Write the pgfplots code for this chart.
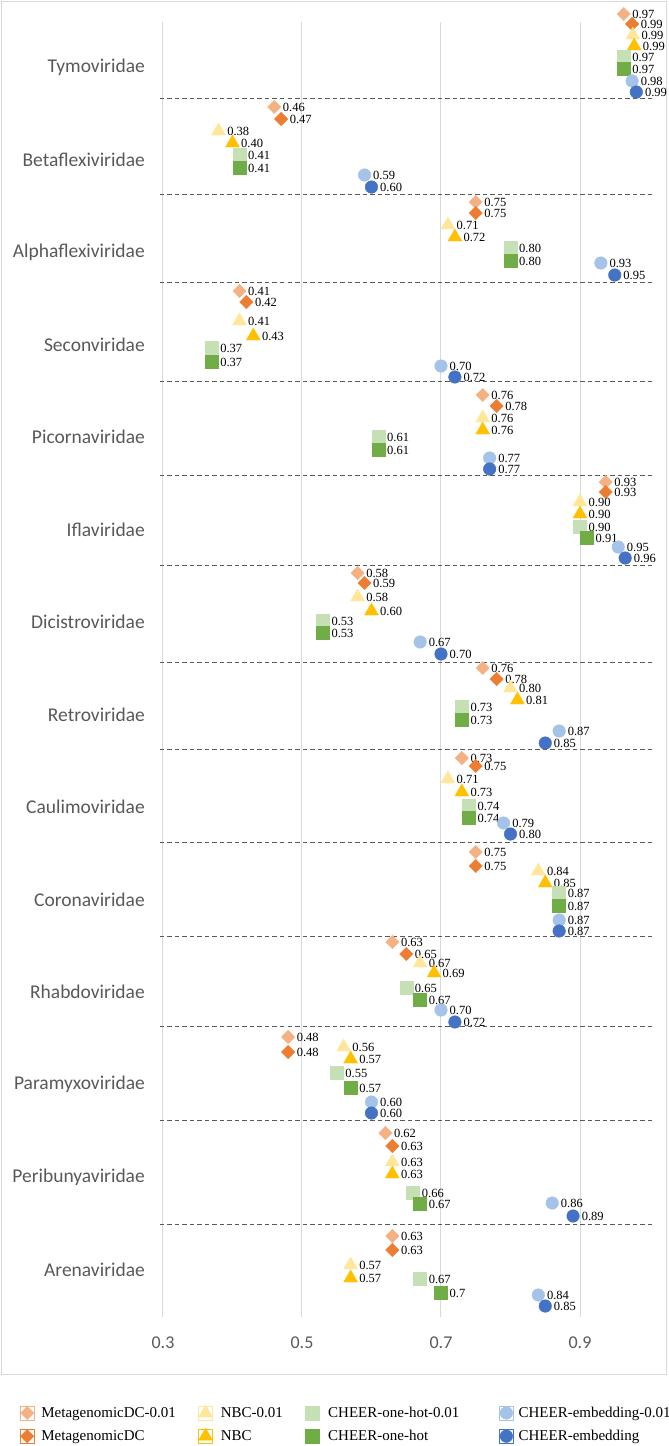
\documentclass[border=0pt]{standalone}
\usepackage{fontspec}
\setmainfont{Liberation Serif}
\newfontfamily\carlito{Carlito}
\usepackage{pgfplots}
\usepackage{pgfplotstable}
\pgfplotsset{compat=1.18}

\definecolor{cMDCl}{HTML}{F4B183}
\definecolor{cMDC}{HTML}{ED7D31}
\definecolor{cNBCl}{HTML}{FFE699}
\definecolor{cNBC}{HTML}{FFC000}
\definecolor{cOHl}{HTML}{C5E0B4}
\definecolor{cOH}{HTML}{70AD47}
\definecolor{cEMBl}{HTML}{A5C3E8}
\definecolor{cEMB}{HTML}{4472C4}
\definecolor{tickgray}{HTML}{595959}
\definecolor{gridgray}{HTML}{D9D9D9}
\definecolor{framegray}{HTML}{D9D9D9}
\definecolor{sepgray}{HTML}{595959}

\newcommand\catfont{\carlito\fontsize{19.5}{23}\selectfont}
\newcommand\ticfont{\carlito\fontsize{18}{21}\selectfont}
\newcommand\labfont{\fontsize{12.5}{14}\selectfont}
\newcommand\legfont{\fontsize{15}{18}\selectfont}

% x = value, y = vertical position (pixel row), l = data label
\pgfplotstableread{
x y l
0.963 14 0.97
0.46 107 0.46
0.75 202 0.75
0.41 291 0.41
0.76 395 0.76
0.937 482 0.93
0.58 573 0.58
0.76 668 0.76
0.73 758 0.73
0.75 852 0.75
0.63 942 0.63
0.48 1037 0.48
0.62 1133 0.62
0.63 1236 0.63
}\tMDCl
\pgfplotstableread{
x y l
0.975 24 0.99
0.47 119 0.47
0.75 213 0.75
0.42 302 0.42
0.78 406 0.78
0.937 492 0.93
0.59 583 0.59
0.78 679 0.78
0.75 766 0.75
0.75 866 0.75
0.65 954 0.65
0.48 1052 0.48
0.63 1146 0.63
0.63 1250 0.63
}\tMDC
\pgfplotstableread{
x y l
0.976 35 0.99
0.38 131 0.38
0.71 225 0.71
0.41 321 0.41
0.76 418 0.76
0.90 502 0.90
0.58 597 0.58
0.80 688 0.80
0.71 779 0.71
0.84 871 0.84
0.67 963 0.67
0.56 1047 0.56
0.63 1162 0.63
0.57 1265 0.57
}\tNBCl
\pgfplotstableread{
x y l
0.978 46 0.99
0.40 143 0.40
0.72 237 0.72
0.43 336 0.43
0.76 430 0.76
0.90 514 0.90
0.60 611 0.60
0.81 700 0.81
0.73 792 0.73
0.85 883 0.85
0.69 973 0.69
0.57 1059 0.57
0.63 1174 0.63
0.57 1278 0.57
}\tNBC
\pgfplotstableread{
x y l
0.963 57 0.97
0.41 155 0.41
0.80 248 0.80
0.37 348 0.37
0.61 437 0.61
0.90 527 0.90
0.53 621 0.53
0.73 707 0.73
0.74 806 0.74
0.87 893 0.87
0.65 988 0.65
0.55 1073 0.55
0.66 1193 0.66
0.67 1279 0.67
}\tOHl
\pgfplotstableread{
x y l
0.963 69 0.97
0.41 168 0.41
0.80 261 0.80
0.37 362 0.37
0.61 450 0.61
0.91 538 0.91
0.53 633 0.53
0.73 720 0.73
0.74 818 0.74
0.87 906 0.87
0.67 1000 0.67
0.57 1088 0.57
0.67 1204 0.67
0.70 1293 0.7
}\tOH
\pgfplotstableread{
x y l
0.975 81 0.98
0.59 175 0.59
0.93 263 0.93
0.70 366 0.70
0.77 458 0.77
0.955 547 0.95
0.67 642 0.67
0.87 731 0.87
0.79 823 0.79
0.87 920 0.87
0.70 1010 0.70
0.60 1102 0.60
0.86 1203 0.86
0.84 1295 0.84
}\tEMBl
\pgfplotstableread{
x y l
0.981 92 0.99
0.60 187 0.60
0.95 275 0.95
0.72 377 0.72
0.77 469 0.77
0.965 558 0.96
0.70 654 0.70
0.85 743 0.85
0.80 834 0.80
0.87 931 0.87
0.72 1022 0.72
0.60 1113 0.60
0.89 1216 0.89
0.85 1306 0.85
}\tEMB

\pgfplotsset{
  dia/.style={only marks, color=#1, mark=square*, mark size=4.7pt, mark options={rotate=45, draw=#1, fill=#1}},
  tri/.style={only marks, color=#1, mark=triangle*, mark size=8pt, mark options={draw=#1, fill=#1}},
  sqr/.style={only marks, color=#1, mark=square*, mark size=6.5pt, mark options={draw=#1, fill=#1}},
  cir/.style={only marks, color=#1, mark=*, mark size=6.3pt, mark options={draw=#1, fill=#1}},
  sep/.style={sepgray, line width=0.9pt, dash pattern=on 4.5pt off 3pt, forget plot},
  lab/.style={nodes near coords={\pgfplotspointmeta}, point meta=explicit symbolic, forget plot},
}

\begin{document}
\begin{tikzpicture}
\useasboundingbox (-160pt,1317pt) rectangle (509pt,-129pt);
\draw[framegray, line width=1pt] (-158pt,1315pt) rectangle (506pt,-57pt);
\begin{axis}[
  scale only axis, width=495pt, height=1295pt,
  xmin=0.2957, xmax=1.0079, ymin=22, ymax=1317, y dir=reverse,
  clip=false,
  axis line style={draw=none},
  major tick length=0pt, tick style={draw=none},
  xtick={0.3,0.5,0.7,0.9}, xticklabels={0.3,0.5,0.7,0.9},
  xmajorgrids, grid style={gridgray, line width=1pt},
  ytick={67,159.5,252,344.5,437,529.5,622,714.5,807,899.5,992,1084.5,1177,1269.5},
  yticklabels={Tymoviridae,Betaflexiviridae,Alphaflexiviridae,Seconviridae,Picornaviridae,Iflaviridae,Dicistroviridae,Retroviridae,Caulimoviridae,Coronaviridae,Rhabdoviridae,Paramyxoviridae,Peribunyaviridae,Arenaviridae},
  xticklabel style={font=\ticfont, text=tickgray, inner sep=0pt, anchor=north, yshift=-20pt},
  yticklabel style={font=\catfont, text=tickgray, inner sep=0pt, anchor=east, xshift=-15pt},
  every node near coord/.append style={font=\labfont, text=black, anchor=west, inner sep=0pt, xshift=8.5pt},
  legend image code/.code={\path (-7pt,-7pt) rectangle (7pt,7pt); \draw[#1] plot coordinates {(0pt,0pt)};},
  legend columns=4,
  legend cell align=left,
  legend style={at={(-0.28283,-0.06795)}, anchor=north west, draw=none, fill=none,
    inner sep=0pt, outer sep=0pt, column sep=0pt, row sep=8pt, font=\legfont,
    nodes={inner sep=0pt}},
]
\addplot[sep] coordinates {(0.2957,98) (1.0079,98)};
\addplot[sep] coordinates {(0.2957,194.5) (1.0079,194.5)};
\addplot[sep] coordinates {(0.2957,282) (1.0079,282)};
\addplot[sep] coordinates {(0.2957,381) (1.0079,381)};
\addplot[sep] coordinates {(0.2957,475) (1.0079,475)};
\addplot[sep] coordinates {(0.2957,565) (1.0079,565)};
\addplot[sep] coordinates {(0.2957,662) (1.0079,662)};
\addplot[sep] coordinates {(0.2957,749) (1.0079,749)};
\addplot[sep] coordinates {(0.2957,842) (1.0079,842)};
\addplot[sep] coordinates {(0.2957,936) (1.0079,936)};
\addplot[sep] coordinates {(0.2957,1026.5) (1.0079,1026.5)};
\addplot[sep] coordinates {(0.2957,1120) (1.0079,1120)};
\addplot[sep] coordinates {(0.2957,1224) (1.0079,1224)};

\addplot[dia=cMDCl, lab] table[x=x, y=y, meta=l] {\tMDCl};
\addplot[dia=cMDC, lab] table[x=x, y=y, meta=l] {\tMDC};
\addplot[tri=cNBCl, lab] table[x=x, y=y, meta=l] {\tNBCl};
\addplot[tri=cNBC, lab] table[x=x, y=y, meta=l] {\tNBC};
\addplot[sqr=cOHl, lab] table[x=x, y=y, meta=l] {\tOHl};
\addplot[sqr=cOH, lab] table[x=x, y=y, meta=l] {\tOH};
\addplot[cir=cEMBl, lab] table[x=x, y=y, meta=l] {\tEMBl};
\addplot[cir=cEMB, lab] table[x=x, y=y, meta=l] {\tEMB};

\addlegendimage{dia=cMDCl}
\addlegendentry{\makebox[164pt][l]{\hspace{7pt}MetagenomicDC-0.01}}
\addlegendimage{tri=cNBCl}
\addlegendentry{\makebox[92pt][l]{\hspace{8pt}NBC-0.01}}
\addlegendimage{sqr=cOHl}
\addlegendentry{\makebox[180pt][l]{\hspace{9pt}CHEER-one-hot-0.01}}
\addlegendimage{cir=cEMBl}
\addlegendentry{\makebox[150pt][l]{\hspace{5pt}CHEER-embedding-0.01}}
\addlegendimage{dia=cMDC}
\addlegendentry{\makebox[164pt][l]{\hspace{7pt}MetagenomicDC}}
\addlegendimage{tri=cNBC}
\addlegendentry{\makebox[92pt][l]{\hspace{8pt}NBC}}
\addlegendimage{sqr=cOH}
\addlegendentry{\makebox[180pt][l]{\hspace{9pt}CHEER-one-hot}}
\addlegendimage{cir=cEMB}
\addlegendentry{\makebox[150pt][l]{\hspace{5pt}CHEER-embedding}}
\end{axis}
\end{tikzpicture}
\end{document}
